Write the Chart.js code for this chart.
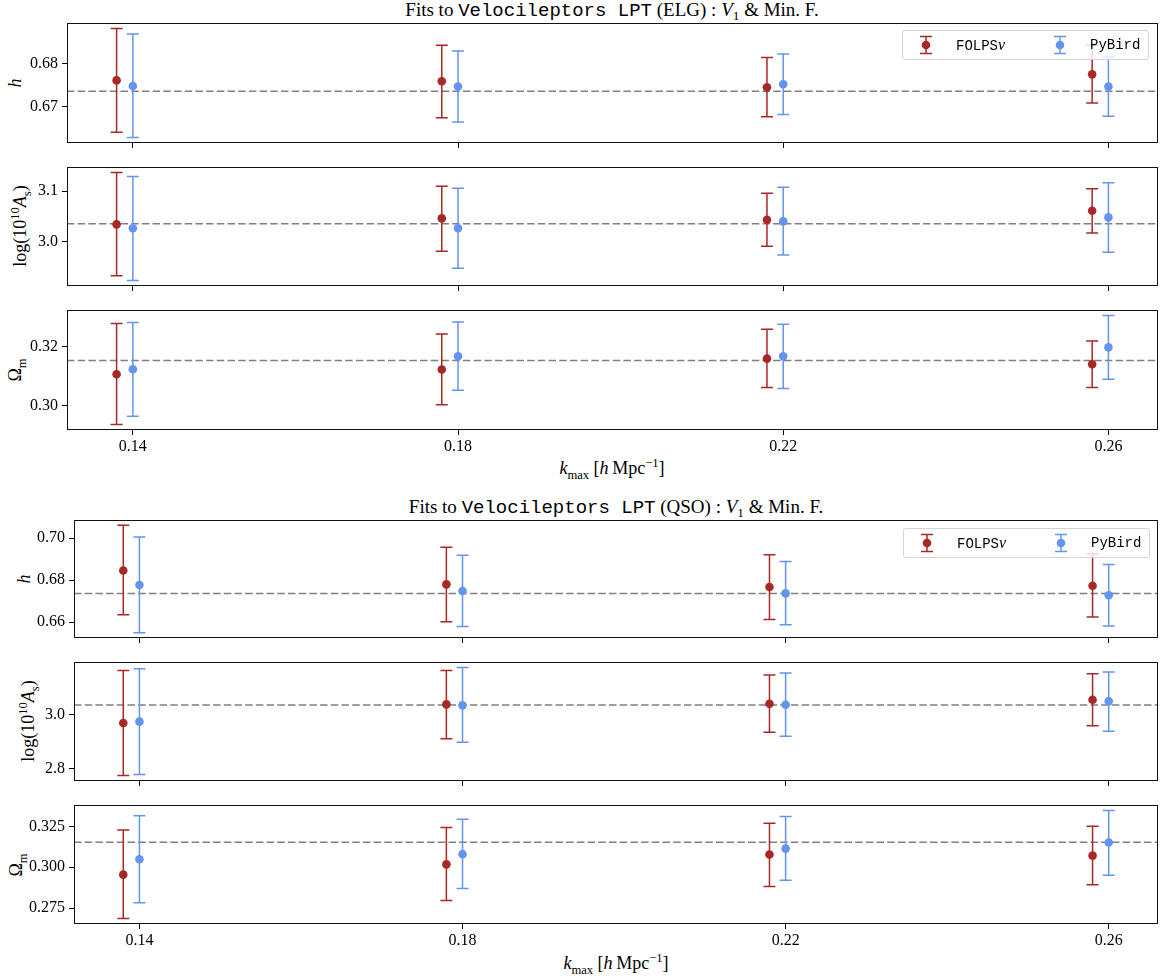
<!DOCTYPE html>
<html>
<head>
<meta charset="utf-8">
<script src="https://cdn.jsdelivr.net/npm/chart.js@4.4.1/dist/chart.umd.min.js"></script>
<style>
  body { margin: 0; background: #fff; width: 1167px; height: 980px; position: relative; overflow: hidden;
         font-family: 'Liberation Serif', serif; color: #000; }
  canvas.panel { position: absolute; left: 0; }
  .title, .xlabel { position: absolute; white-space: nowrap; transform: translate(-50%, -50%); line-height: 1; }
  .title { font-size: 19px; }
  .xlabel { font-size: 18px; }
  .tt { font-family: 'Liberation Mono', monospace; }
  .ylabel { position: absolute; font-size: 18px; white-space: nowrap; line-height: 1;
            transform: translate(-50%, -50%) rotate(-90deg); }
  sub, sup { font-size: 70%; line-height: 0; }
  .legend { position: absolute; width: 245px; height: 28px; border: 1px solid #d4d4d4; border-radius: 3px;
            background: rgba(255,255,255,0.8); }
  .legend svg { position: absolute; top: 4px; }
  .legend .lt { position: absolute; top: 6px; font-family: 'Liberation Mono', monospace; font-size: 14px; line-height: 16px; }
</style>
</head>
<body>
<div class="title" style="left:612px; top:10px;">Fits to <span class="tt">Velocileptors LPT</span> (ELG) : <i>V</i><sub>1</sub> &amp; Min. F.</div>
<div class="xlabel" style="left:612px; top:468px;"><i>k</i><sub>max</sub> [<i>h</i>&#8201;Mpc<sup>&#8722;1</sup>]</div>
<div class="title" style="left:616px; top:507px;">Fits to <span class="tt">Velocileptors LPT</span> (QSO) : <i>V</i><sub>1</sub> &amp; Min. F.</div>
<div class="xlabel" style="left:616px; top:963px;"><i>k</i><sub>max</sub> [<i>h</i>&#8201;Mpc<sup>&#8722;1</sup>]</div>

<div class="ylabel" style="left:15px; top:83px;"><i>h</i></div>
<div class="ylabel" style="left:20px; top:226px;">log(10<sup>10</sup><i>A</i><sub>s</sub>)</div>
<div class="ylabel" style="left:15px; top:370px;">&#937;<sub>m</sub></div>
<div class="ylabel" style="left:24px; top:579px;"><i>h</i></div>
<div class="ylabel" style="left:28px; top:721px;">log(10<sup>10</sup><i>A</i><sub>s</sub>)</div>
<div class="ylabel" style="left:16px; top:865px;">&#937;<sub>m</sub></div>

<script>
// kmax values (FOLPS points are drawn slightly to the left of PyBird)
const kmaxFolps = [0.138, 0.178, 0.218, 0.258];
const kmaxPybird = [0.14, 0.18, 0.22, 0.26];
const kmaxTicks = [0.14, 0.18, 0.22, 0.26];

// each entry: [mean, lower, upper]
const elgHFolps = [[0.6761, 0.6641, 0.6881], [0.6759, 0.6675, 0.6842], [0.6745, 0.6677, 0.6814], [0.6775, 0.6709, 0.6842]];
const elgHPybird = [[0.6748, 0.6629, 0.6868], [0.6747, 0.6665, 0.6829], [0.6752, 0.6682, 0.6822], [0.6747, 0.6678, 0.6815]];
const elgLogAsFolps = [[3.0346, 2.9333, 3.1373], [3.0464, 2.9817, 3.1098], [3.0438, 2.9915, 3.0961], [3.0614, 3.0176, 3.1052]];
const elgLogAsPybird = [[3.0268, 2.9235, 3.1294], [3.0268, 2.9477, 3.1059], [3.0405, 2.9739, 3.1078], [3.0484, 2.9797, 3.1170]];
const elgOmFolps = [[0.3106, 0.2936, 0.3278], [0.3122, 0.3003, 0.3242], [0.3159, 0.3061, 0.3258], [0.3140, 0.3061, 0.3219]];
const elgOmPybird = [[0.3123, 0.2964, 0.3281], [0.3167, 0.3052, 0.3283], [0.3167, 0.3058, 0.3275], [0.3197, 0.3089, 0.3305]];

const qsoHFolps = [[0.6846, 0.6635, 0.7061], [0.6780, 0.6602, 0.6957], [0.6767, 0.6613, 0.6921], [0.6773, 0.6624, 0.6924]];
const qsoHPybird = [[0.6777, 0.6550, 0.7005], [0.6748, 0.6579, 0.6919], [0.6737, 0.6587, 0.6889], [0.6728, 0.6582, 0.6874]];
const qsoLogAsFolps = [[2.9691, 2.7741, 3.1642], [3.0383, 2.9111, 3.1642], [3.0407, 2.9346, 3.1469], [3.0556, 2.9593, 3.1519]];
const qsoLogAsPybird = [[2.9741, 2.7778, 3.1704], [3.0346, 2.8975, 3.1753], [3.0370, 2.9198, 3.1543], [3.0494, 2.9383, 3.1580]];
const qsoOmFolps = [[0.2955, 0.2687, 0.3228], [0.3018, 0.2798, 0.3242], [0.3078, 0.2883, 0.3269], [0.3071, 0.2893, 0.3251]];
const qsoOmPybird = [[0.3049, 0.2784, 0.3314], [0.3080, 0.2870, 0.3293], [0.3114, 0.2921, 0.3310], [0.3151, 0.2951, 0.3347]];

// fiducial (dashed) values
const fidH = 0.6736;
const fidLogAs = 3.036;
const fidOm = 0.3153;

// y tick values
const elgHTicks = [0.67, 0.68];
const elgLogAsTicks = [3.0, 3.1];
const elgOmTicks = [0.30, 0.32];
const qsoHTicks = [0.66, 0.68, 0.70];
const qsoLogAsTicks = [2.8, 3.0];
const qsoOmTicks = [0.275, 0.300, 0.325];

const RED = '#a82828';
const BLUE = '#6495ed';
const PAD_TOP = 16;

function paddedRange(vals) {
  const lo = Math.min(...vals), hi = Math.max(...vals);
  const m = (hi - lo) * 0.05;
  return [lo - m, hi + m];
}

// draws vertical error bars with caps under each point of a dataset
const errorBars = {
  id: 'errorBars',
  beforeDatasetDraw(chart, args) {
    const ds = chart.data.datasets[args.index];
    if (!ds.errors) return;
    const ctx = chart.ctx;
    const y = chart.scales.y;
    ctx.save();
    ctx.strokeStyle = ds.pointBackgroundColor;
    ctx.lineWidth = 1.5;
    args.meta.data.forEach((pt, i) => {
      const lo = y.getPixelForValue(ds.errors[i][1]);
      const hi = y.getPixelForValue(ds.errors[i][2]);
      ctx.beginPath();
      ctx.moveTo(pt.x, lo); ctx.lineTo(pt.x, hi);
      ctx.moveTo(pt.x - 6, lo); ctx.lineTo(pt.x + 6, lo);
      ctx.moveTo(pt.x - 6, hi); ctx.lineTo(pt.x + 6, hi);
      ctx.stroke();
    });
    ctx.restore();
  }
};

// box around the axes (all four spines)
const frame = {
  id: 'frame',
  afterDraw(chart) {
    const a = chart.chartArea, ctx = chart.ctx;
    ctx.save();
    ctx.strokeStyle = '#111';
    ctx.lineWidth = 1;
    ctx.strokeRect(Math.round(a.left) + 0.5, Math.round(a.top) + 0.5,
                   Math.round(a.right - a.left) - 1, Math.round(a.bottom - a.top) - 1);
    ctx.restore();
  }
};

function makePanel(p) {
  const xh = p.showX ? 30 : 8;
  const padBottom = p.showX ? 0 : 6;
  const canvas = document.createElement('canvas');
  canvas.className = 'panel';
  canvas.width = 1167;
  canvas.height = PAD_TOP + (p.bottom - p.top) + xh + padBottom;
  canvas.style.top = (p.top - PAD_TOP) + 'px';
  document.body.appendChild(canvas);

  const xr = paddedRange(kmaxFolps.concat(kmaxPybird));
  const yr = paddedRange(p.folps.concat(p.pybird).flatMap(e => [e[1], e[2]]));
  const font = { family: "'Liberation Serif', serif", size: 16 };

  new Chart(canvas.getContext('2d'), {
    type: 'scatter',
    data: {
      datasets: [
        { label: 'FOLPS', data: kmaxFolps.map((k, i) => ({ x: k, y: p.folps[i][0] })), errors: p.folps,
          pointRadius: 4.3, pointBackgroundColor: RED, pointBorderWidth: 0, order: 2 },
        { label: 'PyBird', data: kmaxPybird.map((k, i) => ({ x: k, y: p.pybird[i][0] })), errors: p.pybird,
          pointRadius: 4.3, pointBackgroundColor: BLUE, pointBorderWidth: 0, order: 1 },
        { label: 'fid', data: [{ x: xr[0], y: p.fid }, { x: xr[1], y: p.fid }], showLine: true,
          borderColor: '#808080', borderWidth: 1.5, borderDash: [7.5, 3.2], pointRadius: 0, order: 3 }
      ]
    },
    options: {
      responsive: false,
      animation: false,
      events: [],
      layout: { padding: { left: 0, right: 1167 - p.right, top: PAD_TOP, bottom: padBottom } },
      plugins: { legend: { display: false }, tooltip: { enabled: false } },
      scales: {
        x: {
          type: 'linear', min: xr[0], max: xr[1],
          afterBuildTicks: s => { s.ticks = kmaxTicks.map(v => ({ value: v })); },
          afterFit: s => { s.height = xh; },
          ticks: { display: p.showX, autoSkip: false, maxRotation: 0, padding: 2, color: '#000', font,
                   callback: v => v.toFixed(2) },
          grid: { drawOnChartArea: false, drawTicks: true, tickLength: 5, tickColor: '#000' },
          border: { display: false }
        },
        y: {
          min: yr[0], max: yr[1],
          afterBuildTicks: s => { s.ticks = p.ticks.map(v => ({ value: v })); },
          afterFit: s => { s.width = p.left; },
          ticks: { autoSkip: false, padding: 4, color: '#000', font, callback: v => v.toFixed(p.dec) },
          grid: { drawOnChartArea: false, drawTicks: true, tickLength: 5, tickColor: '#000' },
          border: { display: false }
        }
      }
    },
    plugins: [errorBars, frame]
  });
}

function makeLegend(left, top) {
  const icon = c => `<svg width="14" height="20" viewBox="0 0 14 20">
      <path d="M7 1.5V18.5M1 1.5H13M1 18.5H13" stroke="${c}" stroke-width="1.5" fill="none"/>
      <circle cx="7" cy="10" r="4.3" fill="${c}"/></svg>`;
  const div = document.createElement('div');
  div.className = 'legend';
  div.style.left = left + 'px';
  div.style.top = top + 'px';
  div.innerHTML =
    `<span style="position:absolute; left:16px;">${icon(RED)}</span>` +
    `<span class="lt" style="left:53px;">FOLPS<i style="font-family:'Liberation Serif',serif; font-size:16px;">&#957;</i></span>` +
    `<span style="position:absolute; left:150px;">${icon(BLUE)}</span>` +
    `<span class="lt" style="left:187px;">PyBird</span>`;
  document.body.appendChild(div);
}

window.addEventListener('DOMContentLoaded', () => {
  const panels = [
    { top: 23, bottom: 143, left: 67, right: 1158, folps: elgHFolps, pybird: elgHPybird, fid: fidH, ticks: elgHTicks, dec: 2, showX: false },
    { top: 167, bottom: 286, left: 67, right: 1158, folps: elgLogAsFolps, pybird: elgLogAsPybird, fid: fidLogAs, ticks: elgLogAsTicks, dec: 1, showX: false },
    { top: 310, bottom: 430, left: 67, right: 1158, folps: elgOmFolps, pybird: elgOmPybird, fid: fidOm, ticks: elgOmTicks, dec: 2, showX: true },
    { top: 520, bottom: 638, left: 74, right: 1158, folps: qsoHFolps, pybird: qsoHPybird, fid: fidH, ticks: qsoHTicks, dec: 2, showX: false },
    { top: 662, bottom: 781, left: 74, right: 1158, folps: qsoLogAsFolps, pybird: qsoLogAsPybird, fid: fidLogAs, ticks: qsoLogAsTicks, dec: 1, showX: false },
    { top: 805, bottom: 924, left: 74, right: 1158, folps: qsoOmFolps, pybird: qsoOmPybird, fid: fidOm, ticks: qsoOmTicks, dec: 3, showX: true }
  ];
  panels.forEach(makePanel);
  makeLegend(902, 30);
  makeLegend(903, 528);
});
</script>
</body>
</html>
